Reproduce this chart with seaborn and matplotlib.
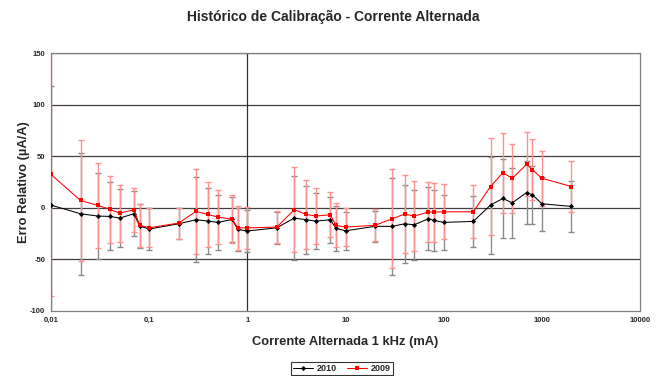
import matplotlib
matplotlib.use("Agg")
import matplotlib.pyplot as plt
import seaborn as sns
import pandas as pd
import numpy as np
from matplotlib.ticker import FixedLocator, NullLocator, FixedFormatter

corrente = [0.01, 0.02, 0.03, 0.04, 0.05, 0.07, 0.08, 0.1, 0.2, 0.3, 0.4, 0.5, 0.7, 0.8, 1,
            2, 3, 4, 5, 7, 8, 10, 20, 30, 40, 50, 70, 80, 100,
            200, 300, 400, 500, 700, 800, 1000, 2000]

erro_2010 = [2.6, -5.8, -8, -8.4, -10, -5.8, -17.7, -20.6, -15.5, -11.6, -12.9, -14.2, -11.3, -21, -22.5,
             -19.4, -10, -11.6, -12.9, -11.6, -19.9, -22.3, -18, -18, -15.5, -16.5, -10.6, -12.3, -14.2,
             -13.2, 2.6, 9, 4.8, 14.8, 12.6, 3.9, 1.3]
incerteza_2010 = [115, 59, 42, 33, 28, 22, 21, 20, 15, 41, 32, 27, 22, 21, 20,
                  15.5, 41, 33, 27.5, 22.5, 22, 18.5, 15, 47, 38, 34, 30.5, 30, 27,
                  25, 47, 38, 34, 30.5, 28, 26, 24.5]

erro_2009 = [32.3, 7.1, 2.3, -1.6, -5.2, -1.9, -17, -19.4, -14.8, -3.5, -6.5, -9, -11, -19.4, -19.5,
             -18.7, -1.9, -6.5, -8, -6.8, -17, -18.7, -17, -10.6, -6.1, -8, -4.2, -4.2, -3.9,
             -3.9, 20.6, 33.9, 28.6, 42.1, 37, 28.6, 20.6]
incerteza_2009 = [118, 59, 41.5, 32.5, 27.5, 21.5, 21, 19, 15, 41.5, 31.5, 26.5, 23.5, 21.5, 20,
                  15.5, 41, 33.3, 27, 22, 21.5, 18.5, 15.5, 48, 38, 34, 29, 28.5, 26.5,
                  25.5, 47.3, 39, 33.2, 31, 29.3, 26.8, 24.4]

x_ticks = [0.01, 0.1, 1, 10, 100, 1000, 10000]
x_tick_labels = ["0,01", "0,1", "1", "10", "100", "1000", "10000"]
y_ticks = [-100, -50, 0, 50, 100, 150]
y_tick_labels = ["-100", "-50", "0", "50", "100", "150"]

df = pd.concat([
    pd.DataFrame({"Corrente": corrente, "Erro": erro_2010, "U": incerteza_2010, "Ano": "2010"}),
    pd.DataFrame({"Corrente": corrente, "Erro": erro_2009, "U": incerteza_2009, "Ano": "2009"}),
], ignore_index=True)

sns.set_style("white")
plt.rcParams["font.family"] = ["Liberation Sans", "DejaVu Sans"]

fig = plt.figure(figsize=(6.64, 3.76), dpi=100)
ax = fig.add_axes([0.0768, 0.173, 0.8871, 0.686])

# error bars
styles = {"2010": dict(ecolor="#8a8a8a", cap="#333333"), "2009": dict(ecolor="#ff9090", cap="#ff3030")}
for ano in ["2010", "2009"]:
    d = df[df["Ano"] == ano]
    eb = ax.errorbar(d["Corrente"], d["Erro"], yerr=d["U"], fmt="none",
                     ecolor=styles[ano]["ecolor"], elinewidth=1.0, capsize=2.2,
                     capthick=1.0, zorder=2, clip_on=True)
    for c in eb[1]:
        c.set_color(styles[ano]["cap"])

sns.lineplot(data=df, x="Corrente", y="Erro", hue="Ano", hue_order=["2010", "2009"],
             palette={"2010": "black", "2009": "red"}, style="Ano",
             markers={"2010": "D", "2009": "s"}, dashes=False, markersize=2.6,
             markeredgewidth=0, linewidth=0.75, ax=ax, zorder=3, sort=False)

ax.set_xscale("log")
ax.set_xlim(0.01, 10000)
ax.set_ylim(-100, 150)
ax.xaxis.set_major_locator(FixedLocator(x_ticks))
ax.xaxis.set_major_formatter(FixedFormatter(x_tick_labels))
ax.xaxis.set_minor_locator(NullLocator())
ax.set_yticks(y_ticks)
ax.set_yticklabels(y_tick_labels)
ax.tick_params(axis="both", length=0, labelsize=5.5, pad=4)
for lab in ax.get_xticklabels() + ax.get_yticklabels():
    lab.set_fontweight("bold")

for yv in [-50, 0, 50, 100, 150]:
    ax.axhline(yv, color="#404040", linewidth=0.9, zorder=1)
ax.axvline(1, color="#303030", linewidth=0.9, zorder=1)
for s in ax.spines.values():
    s.set_color("#808080")
    s.set_linewidth(0.9)

ax.set_xlabel("Corrente Alternada 1 kHz (mA)", fontsize=9.3, fontweight="bold", labelpad=9)
ax.set_ylabel("Erro Relativo (µA/A)", fontsize=9.3, fontweight="bold", labelpad=0)
fig.text(0.502, 0.955, "Histórico de Calibração - Corrente Alternada", ha="center", va="center",
         fontsize=10, fontweight="bold")

leg = ax.legend(loc="upper center", bbox_to_anchor=(0.494, -0.18), ncol=2, fontsize=6.5,
                frameon=True, fancybox=False, edgecolor="black", handlelength=2.2,
                columnspacing=1.2, handletextpad=0.4, borderpad=0.25, title=None)
leg.get_frame().set_linewidth(0.8)
for t in leg.get_texts():
    t.set_fontweight("bold")

fig.savefig("out.png", dpi=100, facecolor="white")
